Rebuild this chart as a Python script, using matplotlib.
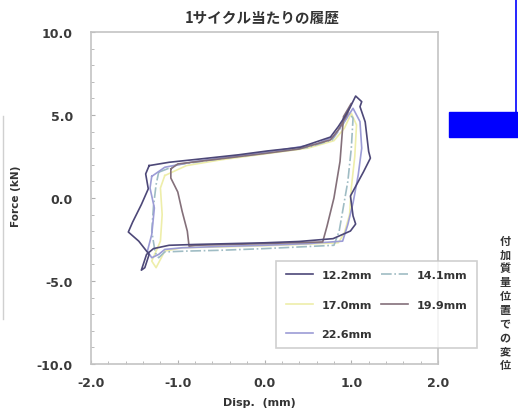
import matplotlib
matplotlib.use("Agg")
import matplotlib.pyplot as plt
from matplotlib.patches import Rectangle
from matplotlib.lines import Line2D

plt.rcParams['font.family'] = ['DejaVu Sans', 'Noto Sans CJK JP']

# hysteresis loops, one per measuring position (disp mm, force kN)
x_122 = [-1.33, -1.10, -0.74, -0.30, 0.03, 0.41, 0.76, 0.85, 0.93, 0.99, 1.05,
         1.12, 1.10, 1.16, 1.20, 1.22, 1.14, 0.99, 1.02, 1.05, 0.99, 0.79,
         0.40, 0.00, -0.40, -0.80, -1.10, -1.28, -1.36, -1.42, -1.38, -1.33,
         -1.45, -1.57, -1.52, -1.42, -1.34, -1.37, -1.33]
y_122 = [1.95, 2.15, 2.35, 2.60, 2.83, 3.05, 3.67, 4.30, 4.94, 5.50, 6.14,
         5.80, 5.50, 4.58, 2.80, 2.40, 1.57, 0.12, -1.08, -1.57, -1.99, -2.45,
         -2.62, -2.70, -2.75, -2.80, -2.85, -3.05, -3.40, -4.35, -4.20, -3.40,
         -2.60, -2.05, -1.45, -0.40, 0.55, 1.45, 1.95]

x_141 = [-1.22, -1.00, -0.60, 0.00, 0.50, 0.78, 0.90, 0.98, 1.02, 1.00, 0.96,
         0.90, 0.86, 0.80, 0.40, 0.00, -0.50, -0.90, -1.15, -1.22, -1.26,
         -1.30, -1.28, -1.25, -1.22]
y_141 = [1.55, 2.00, 2.30, 2.70, 3.05, 3.50, 4.40, 5.10, 4.80, 3.00, 1.00,
         -0.80, -2.00, -2.85, -2.95, -3.05, -3.15, -3.20, -3.25, -3.60, -3.30,
         -2.00, -0.50, 0.80, 1.55]

x_170 = [-1.15, -0.90, -0.50, 0.00, 0.50, 0.80, 0.92, 1.00, 1.06, 1.04, 1.00,
         0.98, 0.92, 0.85, 0.40, 0.00, -0.50, -0.95, -1.15, -1.25, -1.30,
         -1.20, -1.18, -1.20, -1.15]
y_170 = [1.35, 1.95, 2.30, 2.65, 3.00, 3.45, 4.20, 5.10, 4.40, 2.50, 0.60,
         -1.00, -2.10, -2.70, -2.80, -2.88, -2.95, -3.00, -3.20, -4.20, -3.80,
         -2.60, -1.00, 0.60, 1.35]

x_199 = [-1.08, -1.00, -0.60, 0.00, 0.40, 0.76, 0.85, 0.95, 1.00, 0.91, 0.87,
         0.80, 0.72, 0.67, 0.30, 0.00, -0.40, -0.80, -0.87, -0.89, -0.95,
         -1.00, -1.08, -1.08]
y_199 = [1.75, 2.05, 2.30, 2.68, 2.95, 3.50, 4.10, 5.00, 5.70, 4.90, 2.20,
         0.00, -1.70, -2.65, -2.70, -2.75, -2.80, -2.85, -2.90, -2.00, -0.80,
         0.36, 1.20, 1.75]

x_226 = [-1.30, -1.15, -0.80, -0.30, 0.20, 0.60, 0.80, 0.92, 1.02, 1.10, 1.12,
         1.08, 1.02, 0.96, 0.90, 0.50, 0.00, -0.50, -0.95, -1.15, -1.22,
         -1.30, -1.35, -1.30, -1.27, -1.32, -1.30]
y_226 = [1.30, 1.85, 2.20, 2.55, 2.90, 3.25, 3.70, 4.60, 5.40, 4.60, 3.00,
         1.40, -0.30, -1.60, -2.60, -2.75, -2.85, -2.92, -3.00, -3.10, -3.40,
         -3.60, -3.20, -2.20, -0.60, 0.60, 1.30]

labels = ['12.2mm', '14.1mm', '17.0mm', '19.9mm', '22.6mm']
colors = ['#4d4878', '#9fbcc4', '#eeeeaa', '#84707a', '#9c9cd6']
styles = ['-', '-.', '-', '-', '-']

x_ticks = [-2.0, -1.0, 0.0, 1.0, 2.0]
y_ticks = [-10.0, -5.0, 0.0, 5.0, 10.0]

fig = plt.figure(figsize=(5.18, 4.14), dpi=100)
ax = fig.add_axes([0.1757, 0.1184, 0.670, 0.802])

series = [(x_122, y_122), (x_141, y_141), (x_170, y_170), (x_199, y_199), (x_226, y_226)]
draw_order = [2, 1, 4, 3, 0]
handles = {}
for i in draw_order:
    xs, ys = series[i]
    ln, = ax.plot(xs, ys, color=colors[i], lw=1.2, ls=styles[i], label=labels[i])
    handles[i] = ln

ax.set_xlim(-2, 2)
ax.set_ylim(-10, 10)
ax.set_xticks(x_ticks)
ax.set_yticks(y_ticks)
ax.set_xticklabels(['%.1f' % v for v in x_ticks])
ax.set_yticklabels(['%.1f' % v for v in y_ticks])
ax.set_xticks([v / 5 for v in range(-10, 11)], minor=True)
ax.set_yticks(list(range(-10, 11)), minor=True)
ax.tick_params(which='both', direction='in', color='#b0b0b0', labelsize=9,
               labelcolor='#3a3a3a')
ax.tick_params(which='major', length=3)
ax.tick_params(which='minor', length=2)
ax.tick_params(axis='y', pad=13)
ax.tick_params(axis='x', pad=9)
for lab in ax.get_xticklabels() + ax.get_yticklabels():
    lab.set_fontweight('bold')
for sp in ax.spines.values():
    sp.set_color('#c4c4c4')
    sp.set_linewidth(1.2)

fig.text(0.506, 0.957, '1サイクル当たりの履歴', ha='center', va='center',
         fontsize=10.5, fontweight='bold', family=['Noto Sans CJK JP'],
         color='#333333')
fig.text(0.50, 0.026, 'Disp.  (mm)', ha='center', va='center', fontsize=8,
         fontweight='bold', color='#333333')
fig.text(0.031, 0.525, 'Force (kN)', ha='center', va='center', fontsize=7.5,
         fontweight='bold', rotation=90, color='#333333')
fig.text(0.975, 0.433, '\n'.join('付加質量位置での変位'), ha='center', va='top',
         fontsize=8, fontweight='bold', family=['Noto Sans CJK JP'],
         color='#333333', linespacing=1.08)

order = [0, 2, 4, 1, 3]
leg = fig.legend([handles[i] for i in order], [labels[i] for i in order],
                 ncol=2, loc='lower left',
                 bbox_to_anchor=(0.523, 0.1425, 0.409, 0.23), mode='expand',
                 fontsize=8, frameon=True, fancybox=False, edgecolor='#c4c4c4',
                 handlelength=2.4, labelspacing=1.75, borderpad=0.85,
                 columnspacing=1.0)
leg.get_frame().set_linewidth(1.2)
for t in leg.get_texts():
    t.set_fontweight('bold')
    t.set_color('#333333')

# slide decoration on the right
fig.patches.append(Rectangle((0.8668, 0.6667), 0.1332, 0.0604,
                             transform=fig.transFigure, color='#0000ff'))
fig.lines.append(Line2D([0.997, 0.997], [0.727, 1.0], transform=fig.transFigure,
                        color='#0000ff', lw=1.2))
fig.lines.append(Line2D([0.006, 0.006], [0.227, 0.717], transform=fig.transFigure,
                        color='#d0d0d0', lw=1.0))

fig.savefig('out.png', dpi=100)
